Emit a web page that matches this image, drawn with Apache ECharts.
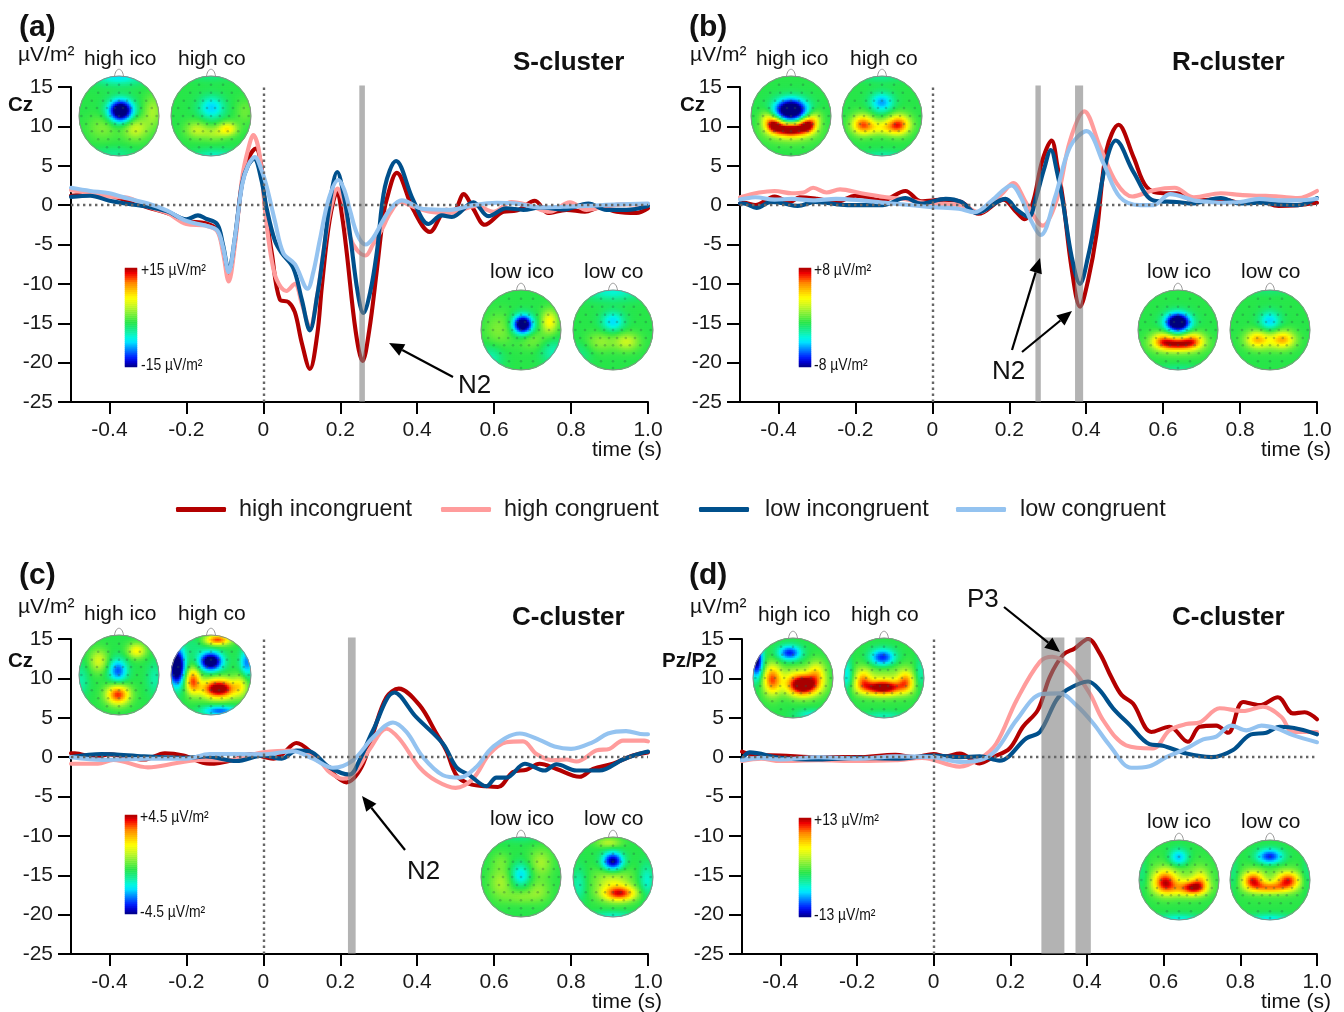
<!DOCTYPE html>
<html><head><meta charset="utf-8">
<style>html,body{margin:0;padding:0;background:#fff}#c{width:1344px;height:1012px}</style>
<script src="https://cdn.jsdelivr.net/npm/echarts@6/dist/echarts.min.js"></script>
</head><body><div id="c"></div>
<script>
const FONT='"Liberation Sans",Arial,sans-serif';
const xTicks=[-0.4,-0.2,0,0.2,0.4,0.6,0.8,1.0];
const seriesNames=['high incongruent','high congruent','low incongruent','low congruent'];
const seriesColors=['#b30000','#ff9c9c','#00508c','#94c3f0'];

// Panel (a) S-cluster, Cz  [time, value]
const aHighInc=[[-.5,1.2],[-.45,1.3],[-.4,1.2],[-.35,.5],[-.3,-.3],[-.25,-1],[-.2,-2],[-.15,-2.3],[-.12,-3.1],[-.105,-5.5],[-.09,-9],[-.075,-5],[-.055,3],[-.035,6.3],[-.02,7.2],[-.005,5],[.004,0],[.022,-6.1],[.043,-12],[.065,-12.3],[.082,-13.6],[.1,-17.5],[.121,-20.8],[.14,-16.5],[.152,-10.4],[.172,-2],[.192,1.7],[.205,-1.5],[.217,-6.1],[.24,-16],[.258,-19.8],[.275,-16],[.295,-8.3],[.31,-2],[.32,.6],[.347,4.1],[.39,-.6],[.433,-3.4],[.476,-.6],[.495,-.7],[.521,1.4],[.545,-.4],[.576,-2.5],[.624,-.85],[.658,-.7],[.706,.55],[.74,-1],[.788,-.6],[.836,-.85],[.875,-.3],[.918,-.85],[.97,-1],[1,-.4]];
const aHighCon=[[-.5,1.9],[-.45,1.5],[-.4,1.1],[-.35,.9],[-.3,-.2],[-.25,-1],[-.2,-2.4],[-.15,-2.6],[-.12,-3.3],[-.105,-6],[-.09,-9.7],[-.075,-5.5],[-.055,3.5],[-.04,7],[-.026,8.9],[-.01,6.5],[.005,-1],[.02,-6.5],[.035,-9.5],[.06,-10.9],[.082,-10],[.1,-12.5],[.121,-15.5],[.14,-11.5],[.156,-6],[.175,-.5],[.193,2.1],[.21,.2],[.225,-4],[.245,-5.8],[.266,-6.4],[.285,-5],[.307,-3.2],[.33,-1],[.355,.4],[.39,-.2],[.433,-.85],[.485,-1],[.554,-.1],[.598,-.85],[.645,.4],[.69,0],[.745,-.85],[.797,.35],[.84,-.6],[.89,-.2],[.935,.1],[1,.1]];
const aLowInc=[[-.5,1.05],[-.45,1.2],[-.4,.55],[-.35,.15],[-.3,-.2],[-.25,-.8],[-.2,-1.8],[-.17,-1.3],[-.15,-1.7],[-.12,-2.4],[-.105,-5],[-.09,-8.3],[-.075,-4.5],[-.055,2.8],[-.04,5],[-.024,5.9],[-.005,3.2],[.009,-.5],[.03,-4.5],[.048,-6.1],[.078,-8],[.1,-12],[.121,-15.9],[.14,-11.5],[.156,-6.1],[.175,1],[.192,4.2],[.21,1],[.225,-3.6],[.245,-11],[.26,-13.7],[.278,-11],[.295,-6],[.316,2.3],[.345,5.6],[.39,.6],[.429,-2.4],[.464,-1.3],[.49,-1.5],[.546,.35],[.585,-1.4],[.632,-.4],[.676,-.6],[.72,-.3],[.78,-.55],[.845,.2],[.892,-.6],[.944,-.6],[1,-.1]];
const aLowCon=[[-.5,2.2],[-.45,1.8],[-.4,1.5],[-.35,.8],[-.3,.2],[-.25,-.7],[-.2,-2],[-.15,-2.6],[-.12,-3.2],[-.105,-5.3],[-.09,-8.5],[-.075,-4.5],[-.055,2.6],[-.04,5],[-.022,6.1],[-.005,4.5],[.009,2.3],[.03,-2],[.052,-6.1],[.082,-7.5],[.115,-10.6],[.13,-8.5],[.147,-4.4],[.17,.8],[.195,3.2],[.21,2],[.225,-.6],[.245,-3.8],[.266,-5],[.285,-4.2],[.307,-2.3],[.33,-.5],[.36,.6],[.416,-.5],[.485,-.6],[.546,0],[.606,.3],[.658,.2],[.72,-.3],[.78,-.2],[.84,-.1],[.92,.1],[1,.2]];

// Panel (b) R-cluster, Cz
const bHighInc=[[-.5,.2],[-.49,.3],[-.46,0],[-.41,1.1],[-.37,.4],[-.345,1],[-.3,.8],[-.25,.4],[-.2,1.2],[-.13,.6],[-.07,1.8],[-.03,.5],[.03,.7],[.075,.4],[.12,-1.1],[.185,.7],[.215,-.7],[.24,-1.8],[.263,.6],[.285,5.5],[.31,8.2],[.325,5],[.34,.6],[.362,-8],[.384,-12.9],[.405,-9.5],[.427,-3.6],[.453,7],[.484,10.2],[.523,6.1],[.557,2.3],[.6,1.5],[.635,1.5],[.68,.6],[.7,.6],[.75,.8],[.8,.3],[.85,.5],[.9,-.1],[.95,0],[1,.3]];
const bHighCon=[[-.5,1],[-.45,1.6],[-.41,1.8],[-.365,1.5],[-.335,1.6],[-.31,2.2],[-.275,1.6],[-.24,2],[-.185,1.5],[-.12,1],[-.08,.8],[0,.2],[.075,0],[.12,-.9],[.18,1.4],[.21,2.8],[.245,.2],[.287,-2.6],[.323,.6],[.358,8.2],[.395,11.9],[.436,7.4],[.479,2.8],[.52,1.1],[.575,1.9],[.63,2.2],[.68,1],[.75,1.5],[.8,1.3],[.85,1.2],[.9,1.1],[.95,.9],[1,1.8]];
const bLowInc=[[-.5,.2],[-.49,.2],[-.457,-.35],[-.42,.4],[-.385,.2],[-.35,-.1],[-.305,.4],[-.22,0],[-.13,0],[-.07,.9],[-.03,.2],[.035,.8],[.075,.4],[.115,-1],[.19,.8],[.22,-.6],[.25,-1.5],[.27,1],[.29,4.5],[.308,7],[.325,4],[.34,.2],[.362,-6.5],[.384,-10],[.405,-6.5],[.427,-1],[.453,5.7],[.477,8.2],[.523,4.2],[.575,.6],[.635,.4],[.68,.2],[.7,.4],[.75,.9],[.8,.2],[.85,.3],[.9,.1],[.95,0],[1,.9]];
const bLowCon=[[-.5,.7],[-.49,.8],[-.46,1],[-.41,.7],[-.365,.8],[-.31,.6],[-.25,.8],[-.185,.6],[-.105,.2],[0,-.25],[.068,-.45],[.11,-.9],[.155,.6],[.206,2.5],[.23,1],[.254,-1.7],[.282,-3.8],[.319,1],[.358,7.4],[.401,9.4],[.445,5.3],[.488,1],[.54,0],[.575,0],[.618,1.4],[.68,.6],[.7,.5],[.75,.3],[.8,.4],[.85,.8],[.9,.6],[.95,.6],[1,.8]];

// Panel (c) C-cluster, Cz
const cHighInc=[[-.5,.5],[-.49,.5],[-.44,0],[-.4,.35],[-.31,-.3],[-.256,.5],[-.208,.2],[-.14,-.85],[-.08,-.4],[-.035,.4],[.026,-.2],[.05,.4],[.086,1.8],[.129,.4],[.172,-1.7],[.216,-3.2],[.255,-1.3],[.285,3],[.32,7.6],[.352,8.7],[.406,6.6],[.45,3],[.476,.8],[.502,-2.3],[.536,-3.4],[.58,-3.7],[.61,-3.8],[.649,-1.9],[.684,-1.6],[.718,-.85],[.762,-1.5],[.822,-2.5],[.857,-1.5],[.909,-.85],[.961,.2],[1,.6]];
const cHighCon=[[-.5,-.85],[-.43,-.85],[-.39,-.35],[-.3,-1.3],[-.225,-.75],[-.165,-.35],[-.095,-.4],[0,.6],[.078,.85],[.147,-.6],[.172,-1.9],[.207,-2.75],[.242,-1.7],[.277,1.05],[.32,3.6],[.354,2.3],[.406,-1.3],[.449,-3],[.5,-3.9],[.545,-2.75],[.588,.4],[.632,1.9],[.675,2],[.71,.4],[.753,-.4],[.787,-.3],[.814,-.55],[.866,.85],[.9,1.05],[.935,2.1],[.99,2.1],[1,2]];
const cLowInc=[[-.5,0],[-.42,.4],[-.31,.1],[-.2,-.1],[-.15,.1],[-.07,-.5],[0,.2],[.048,-.2],[.087,.85],[.12,.75],[.172,-1.3],[.224,-2.2],[.25,-.4],[.285,3.4],[.341,8.2],[.397,5.1],[.467,1.7],[.502,-1.3],[.536,-2.3],[.58,-3.7],[.606,-2.6],[.632,-2.6],[.68,-.85],[.731,-1.7],[.762,-.9],[.814,-1.7],[.874,-1.7],[.935,-.3],[.99,.6],[1,.7]];
const cLowCon=[[-.5,0],[-.416,-.35],[-.3,-.2],[-.2,-.2],[-.14,.4],[0,.35],[.077,.75],[.129,-.2],[.181,-1.35],[.233,-.4],[.285,2.5],[.337,4.4],[.372,3.2],[.415,0],[.467,-2.3],[.51,-2.6],[.553,-1.3],[.597,1.3],[.667,3],[.718,2.2],[.757,1.35],[.8,1.05],[.857,1.9],[.896,3],[.943,3.3],[.99,2.9],[1,2.9]];

// Panel (d) C-cluster, Pz/P2
const dHighInc=[[-.5,.7],[-.47,.3],[-.4,.2],[-.3,0],[-.2,0],[-.1,.3],[-.05,0],[0,.4],[.03,.1],[.068,.45],[.12,-.8],[.155,0],[.198,1.1],[.233,3.85],[.272,6],[.303,10.2],[.338,13],[.368,13.8],[.403,15],[.433,13.2],[.463,10.2],[.49,7.9],[.52,6.8],[.568,3.2],[.615,3.85],[.663,1.95],[.694,3.85],[.737,4],[.768,3.1],[.807,7],[.85,6.6],[.898,7.6],[.937,5.55],[.968,5.7],[1,4.8]];
const dHighCon=[[-.5,-.5],[-.45,-.2],[-.4,-.5],[-.3,-.4],[-.2,-.5],[-.1,-.4],[-.03,-.1],[.068,-1.2],[.12,-.2],[.163,1.7],[.216,7.2],[.277,12.1],[.31,12.75],[.355,11.5],[.407,8.1],[.442,4.7],[.502,1.5],[.572,1.1],[.615,3.4],[.659,4.2],[.694,4.4],[.746,6.2],[.807,5.85],[.859,6.4],[.907,5.1],[.937,3.2],[1,3.2]];
const dLowInc=[[-.5,-.3],[-.48,.6],[-.4,-.1],[-.3,-.3],[-.2,-.1],[-.1,-.2],[0,.2],[.068,0],[.12,.1],[.172,-.45],[.242,2.4],[.277,3.2],[.32,7.25],[.346,8.5],[.403,9.6],[.433,8.5],[.468,6.2],[.511,4.1],[.563,1.65],[.598,1.45],[.659,.45],[.725,0],[.781,.9],[.824,2.8],[.868,3.1],[.903,3.85],[.955,3.55],[1,2.9]];
const dLowCon=[[-.5,-.4],[-.45,-.1],[-.4,-.3],[-.3,0],[-.2,-.2],[-.1,.1],[0,0],[.068,-.6],[.12,-.4],[.163,.9],[.216,4.7],[.281,8],[.329,8.1],[.372,6.6],[.416,4.3],[.459,1.5],[.516,-1.35],[.563,-1.15],[.607,0],[.659,1.1],[.703,2.25],[.737,2.6],[.776,4],[.816,3.4],[.855,4],[.894,3.65],[.937,2.8],[1,1.9]];

// Shaded measurement windows (s)
const aBands=[[.2495,.264]];
const bBands=[[.268,.282],[.371,.392]];
const cBands=[[.22,.24]];
const dBands=[[.281,.341],[.37,.41]];

// Topography blobs: [x, y, level, spreadX, spreadY] in head units
const topoAHighIco=[[.05,-.12,-1.25,.21,.19],[0,-1,-.38,.45,.16],[.42,.32,.36,.22,.2],[.85,-.1,.26,.16,.28],[-.4,.3,.18,.26,.22],[-.1,.95,-.15,.4,.12]];
const topoAHighCo=[[.02,-.2,-.42,.22,.2],[.42,.33,.52,.17,.12],[.08,.45,.22,.2,.13],[-.35,.35,.32,.2,.15],[.85,-.1,.14,.16,.22],[0,-1,-.12,.4,.1],[.1,1,-.25,.4,.12]];
const topoALowIco=[[.05,-.13,-1.2,.17,.16],[.72,-.2,.5,.14,.2],[-.55,0,.18,.25,.3],[.3,.25,.16,.25,.18],[-.75,.7,-.22,.22,.22],[.8,.55,-.22,.22,.22]];
const topoALowCo=[[0,-.2,-.4,.2,.18],[0,-.95,-.28,.5,.16],[.35,.3,.34,.22,.16],[-.3,.3,.22,.25,.17],[-.8,.6,-.12,.2,.2]];
const topoBHighIco=[[0,-.14,-1.35,.27,.19],[0,.34,1.15,.28,.12],[-.42,.22,1,.15,.13],[.42,.22,1,.15,.13],[-.6,.05,.3,.13,.14],[.6,.05,.3,.13,.14],[0,.45,.25,.45,.18]];
const topoBHighCo=[[0,-.33,-.5,.2,.17],[-.48,.22,.8,.19,.17],[.42,.22,.85,.2,.17],[0,.3,.42,.3,.13],[0,-.98,-.15,.4,.1],[.05,1,-.2,.4,.1]];
const topoBLowIco=[[0,-.18,-1.35,.21,.16],[0,.36,.8,.3,.11],[-.38,.26,.6,.2,.14],[.38,.26,.6,.2,.14],[0,.42,.2,.45,.18],[0,1,-.15,.4,.1]];
const topoBLowCo=[[0,-.22,-.42,.18,.17],[-.32,.24,.55,.2,.15],[.34,.24,.58,.2,.15],[0,.3,.22,.35,.16],[0,-1,-.1,.4,.1]];
const topoCHighIco=[[-.02,-.1,-.62,.16,.2],[-.02,.5,.95,.2,.17],[-.5,-.35,.38,.16,.2],[.45,-.6,.5,.16,.13],[-.95,.15,-.2,.14,.3],[.9,.1,-.2,.14,.3]];
const topoCHighCo=[[0,-.33,-1.15,.2,.16],[-.85,-.2,-1.25,.14,.32],[.2,.35,1.3,.3,.17],[-.45,.15,.85,.13,.22],[.17,-.87,.9,.22,.09],[.75,.25,.35,.12,.2],[.9,-.3,-.55,.12,.25],[.22,.9,-.6,.3,.09],[-.4,-.75,-.1,.2,.2]];
const topoCLowIco=[[0,-.05,-.38,.18,.2],[.5,-.35,.26,.2,.25],[-.5,.15,.26,.2,.28],[.45,.35,.2,.2,.2],[0,.5,.18,.26,.13],[0,-1,-.12,.4,.1],[-.5,-.4,.12,.16,.16]];
const topoCLowCo=[[0,-.38,-.95,.18,.16],[.18,.42,.85,.28,.13],[0,.15,.36,.33,.28],[-.1,-.85,.3,.22,.09],[-.85,.2,-.22,.14,.3],[.85,.1,-.28,.14,.3],[0,.98,-.25,.4,.09]];
const topoDHighIco=[[.25,.2,1.35,.28,.18],[-.52,.05,.85,.16,.26],[-.08,-.62,-.72,.2,.13],[-.9,-.42,-.95,.11,.3],[.6,-.1,.5,.16,.22],[.1,-.05,.25,.32,.18],[.5,.92,-.3,.3,.09]];
const topoDHighCo=[[-.03,.25,1.15,.36,.13],[.55,.08,.6,.14,.18],[-.52,.05,.55,.14,.18],[-.03,-.5,-.75,.22,.15],[-.92,-.05,-.38,.1,.3],[.92,-.1,-.25,.1,.3],[0,.95,-.22,.4,.08],[0,0,.22,.55,.3]];
const topoDLowIco=[[-.35,.05,.85,.2,.2],[.38,.2,.8,.22,.13],[0,.22,.35,.36,.14],[.55,0,.4,.14,.18],[0,-.55,-.5,.17,.15],[0,.98,-.3,.4,.09],[-.9,-.1,-.15,.1,.3],[0,-.1,.16,.55,.32]];
const topoDLowCo=[[-.42,.02,.85,.18,.15],[.46,.02,.85,.2,.15],[0,.2,.65,.32,.1],[0,-.58,-.72,.22,.13],[0,-.1,-.05,.15,.12],[0,.98,-.32,.4,.09],[-.9,-.1,-.15,.1,.3],[.92,-.1,-.15,.1,.3],[0,0,.16,.55,.28]];

// Electrode positions on the head (head units)
const electrodeRows=[[-.78,[-.3,0,.3]],[-.58,[-.52,-.27,0,.27,.52]],[-.38,[-.68,-.4,-.2,0,.2,.4,.68]],[-.2,[-.82,-.55,-.3,-.1,.1,.3,.55,.82]],[0,[-.94,-.7,-.45,-.22,0,.22,.45,.7,.94]],[.2,[-.82,-.55,-.32,-.1,.1,.32,.55,.82]],[.38,[-.68,-.42,-.2,0,.2,.42,.68]],[.58,[-.52,-.27,0,.27,.52]],[.78,[-.3,0,.3]],[.95,[0]]];
const electrodes=[];electrodeRows.forEach(r=>r[1].forEach(x=>electrodes.push([x,r[0]])));

// Colour scale, -1 .. +1 in steps of 0.1
const rainbow=['#00007f','#0000d0','#0020ff','#0060ff','#00a0ff','#00e0ff','#00f8e0','#10f0a8','#18e878','#28e64a','#58ec3c','#88f034','#b8f628','#e0fa14','#ffff00','#ffd800','#ffb000','#ff8800','#ff4000','#f00000','#a80000'];
const cellCount=40;
const topoBase=-.1;

const panels=[
 {left:71,width:577,top:87,data:[aHighInc,aHighCon,aLowInc,aLowCon],bands:aBands},
 {left:740,width:577,top:87,data:[bHighInc,bHighCon,bLowInc,bLowCon],bands:bBands},
 {left:71,width:577,top:639,data:[cHighInc,cHighCon,cLowInc,cLowCon],bands:cBands},
 {left:742,width:575,top:639,data:[dHighInc,dHighCon,dLowInc,dLowCon],bands:dBands}
];
const topos=[
 [119,116,topoAHighIco],[211,116,topoAHighCo],[521,330,topoALowIco],[613,330,topoALowCo],
 [791,116,topoBHighIco],[882,116,topoBHighCo],[1178,330,topoBLowIco],[1270,330,topoBLowCo],
 [119,675,topoCHighIco],[211,675,topoCHighCo],[521,877,topoCLowIco],[613,877,topoCLowCo],
 [793,678,topoDHighIco],[884,678,topoDHighCo],[1179,880,topoDLowIco],[1270,880,topoDLowCo]
];
const bars=[[125,268],[799,268],[125,815],[799,818]];

const grid=[],xAxis=[],yAxis=[],series=[],heatIdx=[];
panels.forEach((p,pi)=>{
 grid.push({left:p.left,top:p.top,width:p.width,height:315});
 xAxis.push({gridIndex:pi,type:'value',min:-.5,max:1,splitLine:{show:false},
  axisLine:{onZero:false,lineStyle:{color:'#000',width:2}},
  axisTick:{length:12,lineStyle:{color:'#000',width:2},customValues:xTicks},
  axisLabel:{customValues:xTicks,color:'#1a1a1a',fontSize:21,fontFamily:FONT,margin:18,formatter:v=>Math.abs(v)<1e-9?'0':v.toFixed(1)}});
 yAxis.push({gridIndex:pi,type:'value',min:-25,max:15,interval:5,splitLine:{show:false},
  axisLine:{onZero:false,lineStyle:{color:'#000',width:2}},
  axisTick:{length:13,lineStyle:{color:'#000',width:2}},
  axisLabel:{color:'#1a1a1a',fontSize:21,fontFamily:FONT,margin:18,padding:[4,0,0,0]}});
 p.data.forEach((d,i)=>{
  const s={type:'line',name:seriesNames[i],xAxisIndex:pi,yAxisIndex:pi,data:d,showSymbol:false,smooth:.35,silent:true,clip:false,z:2+i*.1,animation:false,
   color:seriesColors[i],lineStyle:{color:seriesColors[i],width:4.1,cap:'round',join:'round'},itemStyle:{color:seriesColors[i]}};
  if(i===3){
   s.markLine={silent:true,symbol:'none',animation:false,z:7,label:{show:false},emphasis:{disabled:true},
    lineStyle:{color:'#666',width:2.4,type:[2.4,3.6]},data:[{yAxis:0},{xAxis:0}]};
  }
  series.push(s);
 });
 series.push({type:'custom',xAxisIndex:pi,yAxisIndex:pi,data:p.bands,silent:true,animation:false,clip:false,z:3,
  encode:{x:[0,1]},
  renderItem:(params,api)=>{
   const a=api.coord([api.value(0),15.2]),b=api.coord([api.value(1),-25]);
   return {type:'rect',shape:{x:a[0],y:a[1],width:b[0]-a[0],height:b[1]-a[1]},style:{fill:'rgba(128,128,128,0.6)'}};
  }});
});
function addGrid(l,t,w,h,xa,ya){
 const n=grid.length;
 grid.push({left:l,top:t,width:w,height:h});
 xAxis.push(Object.assign({gridIndex:n,show:false},xa));
 yAxis.push(Object.assign({gridIndex:n,show:false},ya));
 return n;
}
const cats=Array.from({length:cellCount},(_,i)=>i);
topos.forEach(t=>{
 const [cx,cy,blobs]=t,R=40;
 const g=addGrid(cx-R,cy-R,2*R,2*R,{type:'category',data:cats},{type:'category',data:cats});
 const cells=[];
 for(let j=0;j<cellCount;j++)for(let i=0;i<cellCount;i++){
  const u=(i+.5)/cellCount*2-1,v=(j+.5)/cellCount*2-1;
  if(u*u+v*v>1.1)continue;
  let f=topoBase;
  blobs.forEach(b=>{const dx=(u-b[0])/b[3],dy=(v-b[1])/b[4];f+=b[2]*Math.exp(-.5*(dx*dx+dy*dy));});
  cells.push([i,cellCount-1-j,Math.max(-1,Math.min(1,f))]);
 }
 heatIdx.push(series.length);
 series.push({type:'heatmap',xAxisIndex:g,yAxisIndex:g,data:cells,silent:true,animation:false,progressive:0,z:1,emphasis:{disabled:true},itemStyle:{borderWidth:0}});
 const o=addGrid(cx-R,cy-R,2*R,2*R,{type:'value',min:-1,max:1},{type:'value',min:-1,max:1,inverse:true});
 series.push({type:'custom',xAxisIndex:o,yAxisIndex:o,data:[[0,0]],silent:true,animation:false,clip:false,z:1.1,
  renderItem:(params,api)=>{
   const c=api.coord([0,0]),r=api.size([1,0])[0];
   return {type:'group',children:[
    {type:'circle',shape:{cx:c[0],cy:c[1],r:r+3},style:{fill:'none',stroke:'#fff',lineWidth:5}},
    {type:'circle',shape:{cx:c[0],cy:c[1],r:r},style:{fill:'none',stroke:'#8c8c8c',lineWidth:1}},
    {type:'bezierCurve',shape:{x1:c[0]-4.5,y1:c[1]-r,x2:c[0]+4.5,y2:c[1]-r,cpx1:c[0]-3,cpy1:c[1]-r-9,cpx2:c[0]+3,cpy2:c[1]-r-9},style:{fill:'none',stroke:'#999',lineWidth:1}}
   ]};
  }});
 series.push({type:'scatter',xAxisIndex:o,yAxisIndex:o,data:electrodes,symbolSize:2.6,silent:true,animation:false,z:1.2,itemStyle:{color:'rgba(40,90,70,0.4)'}});
});
const barCells=Array.from({length:50},(_,i)=>i);
bars.forEach(b=>{
 const g=addGrid(b[0],b[1],12,99,{type:'category',data:[0]},{type:'category',data:barCells});
 heatIdx.push(series.length);
 series.push({type:'heatmap',xAxisIndex:g,yAxisIndex:g,data:barCells.map(i=>[0,i,(i+.5)/50*2-1]),silent:true,animation:false,progressive:0,z:1,emphasis:{disabled:true}});
});

const graphic=[];
function txt(x,y,text,size,opt){opt=opt||{};
 const g={type:'text',x:x,y:y+1.5,z:20,silent:true,style:{text:text,fill:opt.color||'#111',font:(opt.bold?'bold ':'')+size+'px '+FONT,align:opt.align||'left',verticalAlign:'middle',textAlign:opt.align||'left',textVerticalAlign:'middle'}};
 if(opt.scaleX)g.scaleX=opt.scaleX;
 graphic.push(g);
}
function arrow(x1,y1,x2,y2){
 const a=Math.atan2(y2-y1,x2-x1),L=15,W=6.5;
 const bx=x2-L*Math.cos(a),by=y2-L*Math.sin(a);
 graphic.push({type:'line',z:4,silent:true,shape:{x1:x1,y1:y1,x2:bx,y2:by},style:{stroke:'#000',lineWidth:2.2}});
 graphic.push({type:'polygon',z:4,silent:true,shape:{points:[[x2,y2],[bx-W*Math.sin(a),by+W*Math.cos(a)],[bx+W*Math.sin(a),by-W*Math.cos(a)]]},style:{fill:'#000'}});
}
[['(a)',19,26],['(b)',689,26],['(c)',19,574],['(d)',689,574]].forEach(t=>txt(t[1],t[2],t[0],30,{bold:true}));
[[18,54],[690,54],[18,606],[690,606]].forEach(t=>txt(t[0],t[1],'µV/m²',21));
[['S-cluster',513,61],['R-cluster',1172,61],['C-cluster',512,616],['C-cluster',1172,616]].forEach(t=>txt(t[1],t[2],t[0],26,{bold:true}));
[['Cz',8,104],['Cz',680,104],['Cz',8,660],['Pz/P2',662,660]].forEach(t=>txt(t[1],t[2],t[0],20.5,{bold:true}));
[['high ico',84,58],['high co',178,58],['low ico',490,271],['low co',584,271],
 ['high ico',756,58],['high co',850,58],['low ico',1147,271],['low co',1241,271],
 ['high ico',84,613],['high co',178,613],['low ico',490,818],['low co',584,818],
 ['high ico',758,614],['high co',851,614],['low ico',1147,821],['low co',1241,821]].forEach(t=>txt(t[1],t[2],t[0],21));
[[662,449],[1331,449],[662,1001],[1331,1001]].forEach(t=>txt(t[0],t[1],'time (s)',21,{align:'right'}));
[['+15 µV/m²',141,269],['-15 µV/m²',141,364],['+8 µV/m²',814,269],['-8 µV/m²',814,364],
 ['+4.5 µV/m²',140,816],['-4.5 µV/m²',140,911],['+13 µV/m²',814,819],['-13 µV/m²',814,914]].forEach(t=>txt(t[1],t[2],t[0],16,{scaleX:.87}));
[['N2',458,384],['N2',992,370],['N2',407,870],['P3',967,598]].forEach(t=>txt(t[1],t[2],t[0],26));
arrow(453,377,389,343);arrow(1012,350,1040,258);arrow(1022,352,1072,311);arrow(405,850,362,796);arrow(1004,607,1060,652);

const legendLeft=[176,441,699,956];
const legendGap=[8,8,11,9];
const legend=seriesNames.map((n,i)=>({data:[n],left:legendLeft[i],top:498,padding:0,icon:'roundRect',itemWidth:50,itemHeight:5,selectedMode:false,
 itemStyle:{color:seriesColors[i]},lineStyle:{width:0},textStyle:{color:'#1a1a1a',fontSize:23.4,fontFamily:FONT,padding:[0,0,0,legendGap[i]]}}));

const chart=echarts.init(document.getElementById('c'),null,{renderer:'canvas'});
chart.setOption({animation:false,backgroundColor:'#fff',grid,xAxis,yAxis,series,legend,graphic,
 visualMap:{show:false,type:'continuous',min:-1,max:1,seriesIndex:heatIdx,inRange:{color:rainbow}}});
</script></body></html>
